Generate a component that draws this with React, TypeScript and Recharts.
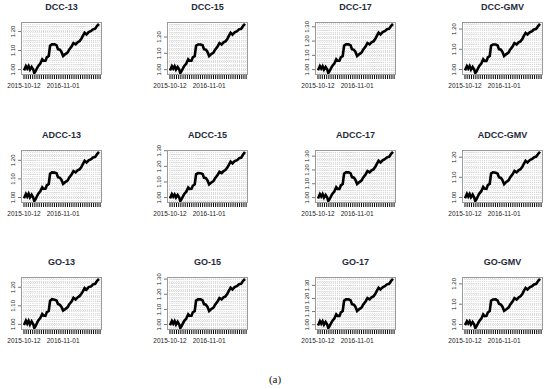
import { CartesianGrid, Line, LineChart, XAxis, YAxis } from "recharts";

// trading-day index of each sampled point (shared by every panel)
const days = [
  0, 7, 12, 17, 22, 28, 34, 38, 43, 52, 60, 67, 72, 79, 84, 91, 96, 103, 113,
  120, 125, 132, 137, 144, 151, 160, 166, 175, 182, 190, 197, 204, 211, 216,
  223, 230, 238, 247, 254, 262, 269, 276,
];

const dcc13 = [0.996, 1.018, 1.005, 1.018, 1.0, 1.014, 1.0, 0.982, 0.993, 1.018, 1.032, 1.054, 1.046, 1.046, 1.064, 1.071, 1.125, 1.132, 1.132, 1.127, 1.107, 1.104, 1.095, 1.071, 1.08, 1.089, 1.104, 1.121, 1.139, 1.132, 1.143, 1.148, 1.161, 1.175, 1.193, 1.184, 1.196, 1.202, 1.211, 1.214, 1.229, 1.239];
const dcc15 = [0.995, 1.021, 1.006, 1.021, 1.0, 1.016, 1.0, 0.979, 0.992, 1.021, 1.037, 1.063, 1.054, 1.054, 1.075, 1.083, 1.146, 1.154, 1.154, 1.149, 1.125, 1.122, 1.111, 1.083, 1.094, 1.104, 1.122, 1.142, 1.163, 1.154, 1.167, 1.173, 1.188, 1.205, 1.226, 1.215, 1.229, 1.236, 1.247, 1.25, 1.268, 1.28];
const dcc17 = [0.995, 1.024, 1.007, 1.024, 1.0, 1.019, 1.0, 0.976, 0.991, 1.024, 1.043, 1.072, 1.062, 1.062, 1.086, 1.095, 1.168, 1.177, 1.177, 1.17, 1.143, 1.139, 1.127, 1.095, 1.107, 1.119, 1.139, 1.162, 1.186, 1.177, 1.192, 1.198, 1.216, 1.235, 1.259, 1.247, 1.263, 1.271, 1.283, 1.287, 1.307, 1.32];
const dccGmv = [0.996, 1.017, 1.005, 1.017, 1.0, 1.013, 1.0, 0.983, 0.993, 1.017, 1.03, 1.051, 1.043, 1.043, 1.06, 1.067, 1.118, 1.124, 1.124, 1.119, 1.101, 1.098, 1.089, 1.067, 1.075, 1.084, 1.098, 1.114, 1.131, 1.124, 1.134, 1.139, 1.151, 1.165, 1.181, 1.173, 1.184, 1.19, 1.198, 1.201, 1.215, 1.225];

const adcc13 = [0.996, 1.019, 1.005, 1.02, 1.001, 1.015, 1.0, 0.981, 0.993, 1.019, 1.033, 1.055, 1.047, 1.047, 1.065, 1.073, 1.128, 1.135, 1.134, 1.13, 1.109, 1.106, 1.097, 1.073, 1.082, 1.091, 1.106, 1.124, 1.142, 1.135, 1.146, 1.151, 1.164, 1.178, 1.197, 1.188, 1.2, 1.206, 1.215, 1.218, 1.234, 1.245];
const adcc15 = [0.995, 1.022, 1.006, 1.02, 1.001, 1.017, 1.0, 0.978, 0.992, 1.022, 1.038, 1.064, 1.055, 1.056, 1.076, 1.085, 1.149, 1.157, 1.156, 1.151, 1.128, 1.124, 1.113, 1.085, 1.095, 1.106, 1.124, 1.144, 1.165, 1.157, 1.17, 1.176, 1.192, 1.208, 1.23, 1.219, 1.233, 1.24, 1.251, 1.256, 1.276, 1.292];
const adcc17 = [0.994, 1.025, 1.007, 1.025, 1.0, 1.019, 1.0, 0.975, 0.99, 1.025, 1.044, 1.075, 1.063, 1.063, 1.088, 1.098, 1.173, 1.182, 1.182, 1.175, 1.148, 1.144, 1.131, 1.098, 1.11, 1.123, 1.144, 1.167, 1.192, 1.182, 1.197, 1.204, 1.222, 1.242, 1.266, 1.254, 1.27, 1.279, 1.291, 1.295, 1.316, 1.33];
const adccGmv = [0.996, 1.018, 1.004, 1.017, 1.001, 1.014, 0.999, 0.982, 0.993, 1.018, 1.031, 1.052, 1.044, 1.043, 1.061, 1.068, 1.119, 1.125, 1.123, 1.118, 1.1, 1.097, 1.088, 1.066, 1.076, 1.085, 1.099, 1.115, 1.132, 1.125, 1.135, 1.14, 1.152, 1.166, 1.182, 1.174, 1.185, 1.191, 1.199, 1.203, 1.216, 1.226];

const go13 = [0.996, 1.02, 1.004, 1.019, 0.999, 1.016, 1.001, 0.98, 0.992, 1.02, 1.034, 1.056, 1.048, 1.046, 1.066, 1.072, 1.127, 1.136, 1.133, 1.129, 1.11, 1.105, 1.096, 1.074, 1.081, 1.092, 1.107, 1.123, 1.143, 1.134, 1.145, 1.152, 1.165, 1.177, 1.196, 1.187, 1.201, 1.205, 1.216, 1.219, 1.235, 1.245];
const go15 = [0.995, 1.023, 1.006, 1.023, 1.0, 1.018, 1.0, 0.977, 0.991, 1.023, 1.04, 1.068, 1.058, 1.058, 1.081, 1.089, 1.158, 1.166, 1.166, 1.16, 1.135, 1.131, 1.12, 1.089, 1.101, 1.112, 1.131, 1.152, 1.175, 1.166, 1.18, 1.186, 1.203, 1.221, 1.243, 1.232, 1.247, 1.255, 1.266, 1.27, 1.289, 1.301];
const go17 = [0.994, 1.026, 1.007, 1.026, 1.0, 1.02, 1.0, 0.974, 0.99, 1.026, 1.047, 1.079, 1.067, 1.067, 1.093, 1.104, 1.183, 1.193, 1.193, 1.185, 1.156, 1.152, 1.139, 1.104, 1.117, 1.13, 1.152, 1.177, 1.203, 1.193, 1.209, 1.216, 1.235, 1.256, 1.282, 1.269, 1.286, 1.295, 1.308, 1.312, 1.334, 1.349];
const goGmv = [0.997, 1.016, 1.005, 1.016, 1.0, 1.012, 1.0, 0.983, 0.994, 1.016, 1.029, 1.05, 1.042, 1.043, 1.059, 1.066, 1.117, 1.123, 1.124, 1.118, 1.102, 1.098, 1.09, 1.068, 1.074, 1.083, 1.097, 1.113, 1.13, 1.123, 1.133, 1.139, 1.15, 1.164, 1.18, 1.172, 1.183, 1.189, 1.197, 1.2, 1.214, 1.224];

const titles = [
  "DCC-13", "DCC-15", "DCC-17", "DCC-GMV",
  "ADCC-13", "ADCC-15", "ADCC-17", "ADCC-GMV",
  "GO-13", "GO-15", "GO-17", "GO-GMV",
];
const series = [
  dcc13, dcc15, dcc17, dccGmv,
  adcc13, adcc15, adcc17, adccGmv,
  go13, go15, go17, goGmv,
];

const xTicks = [
  0, 8, 16, 24, 32, 40, 48, 56, 64, 72, 80, 88, 96, 104, 112, 120, 128, 136,
  144, 152, 160, 168, 176, 184, 192, 200, 208, 216, 224, 232, 240, 248, 256,
  264, 272, 280,
];
const xLabels: Record<number, string> = { 0: "2015-10-12", 144: "2016-11-01" };
const yLabels = [1.0, 1.1, 1.2, 1.3];
const hGrid = [
  0.95, 0.975, 1.0, 1.025, 1.05, 1.075, 1.1, 1.125, 1.15, 1.175, 1.2, 1.225,
  1.25, 1.275, 1.3, 1.325, 1.35, 1.375,
];

// layout
const colLeft = [21, 167, 315, 462];
const rowTop = [22, 150, 277];
const BOX_W = 81;
const BOX_H = 53;
const ML = 25; // margin + y axis width
const MT = 15;
const CW = 140;
const CH = 100;
const X_DOMAIN: [number, number] = [-11, 287];
const FONT = "'Liberation Sans', Arial, sans-serif";

function YTick(props: any) {
  const { y, payload } = props;
  const lx = ML - 8;
  return (
    <text
      x={lx}
      y={y}
      transform={`rotate(-90, ${lx}, ${y})`}
      textAnchor="middle"
      dominantBaseline="central"
      fontSize={6}
      fill="#222"
      fontFamily={FONT}
    >
      {Number(payload.value).toFixed(2)}
    </text>
  );
}

function Panel({ title, values, left, top }: { title: string; values: number[]; left: number; top: number }) {
  const data = days.map((d, i) => ({ day: d, value: values[i] }));
  const lo = Math.min(...values);
  const hi = Math.max(...values);
  const pad = (hi - lo) * 0.04;
  const yDomain: [number, number] = [lo - pad, hi + pad];
  const yTicks = yLabels.filter((v) => v >= yDomain[0] && v <= yDomain[1]);
  const hLines = hGrid.filter((v) => v > yDomain[0] && v < yDomain[1]);

  return (
    <div style={{ position: "absolute", left: left - ML, top: top - MT, width: CW, height: CH }}>
      <div
        style={{
          position: "absolute",
          left: ML - 20,
          width: BOX_W + 40,
          top: -6,
          height: 12,
          lineHeight: "12px",
          textAlign: "center",
          fontFamily: FONT,
          fontWeight: 700,
          fontSize: 9,
          color: "#1f2b3a",
          whiteSpace: "nowrap",
        }}
      >
        {title}
      </div>
      <LineChart
        width={CW}
        height={CH}
        data={data}
        margin={{ top: MT, right: CW - ML - BOX_W, bottom: CH - MT - BOX_H - 14, left: ML - 10 }}
      >
        <CartesianGrid
          verticalValues={xTicks}
          horizontalValues={hLines}
          stroke="#d6d6d6"
          strokeDasharray="1 1"
        />
        <XAxis
          type="number"
          dataKey="day"
          domain={X_DOMAIN}
          ticks={xTicks}
          interval={0}
          height={14}
          axisLine={false}
          tickSize={4}
          tickMargin={4}
          tickLine={{ stroke: "#000", strokeWidth: 1 }}
          tick={{ fontSize: 6.5, fill: "#222", fontFamily: FONT }}
          tickFormatter={(v: number) => xLabels[v] ?? ""}
          allowDataOverflow
        />
        <YAxis
          type="number"
          domain={yDomain}
          ticks={yTicks}
          interval={0}
          width={10}
          axisLine={false}
          tickSize={3}
          tickLine={{ stroke: "#777" }}
          tick={<YTick />}
          allowDataOverflow
        />
        <Line
          type="linear"
          dataKey="value"
          stroke="#000"
          strokeWidth={2.6}
          dot={false}
          isAnimationActive={false}
        />
      </LineChart>
      <div
        style={{
          position: "absolute",
          left: ML,
          top: MT,
          width: BOX_W,
          height: BOX_H,
          border: "1px solid #9a9a9a",
          boxSizing: "border-box",
          pointerEvents: "none",
        }}
      />
    </div>
  );
}

export default function App() {
  return (
    <div
      style={{
        position: "absolute",
        left: 0,
        top: 0,
        width: 550,
        height: 389,
        background: "#fff",
        overflow: "hidden",
      }}
    >
      {titles.map((t, i) => (
        <Panel
          key={t}
          title={t}
          values={series[i]}
          left={colLeft[i % 4]}
          top={rowTop[Math.floor(i / 4)]}
        />
      ))}
      <div
        style={{
          position: "absolute",
          left: 0,
          width: 550,
          top: 373,
          textAlign: "center",
          fontFamily: "'Liberation Serif', 'DejaVu Serif', serif",
          fontSize: 11,
          color: "#111",
        }}
      >
        (a)
      </div>
    </div>
  );
}
